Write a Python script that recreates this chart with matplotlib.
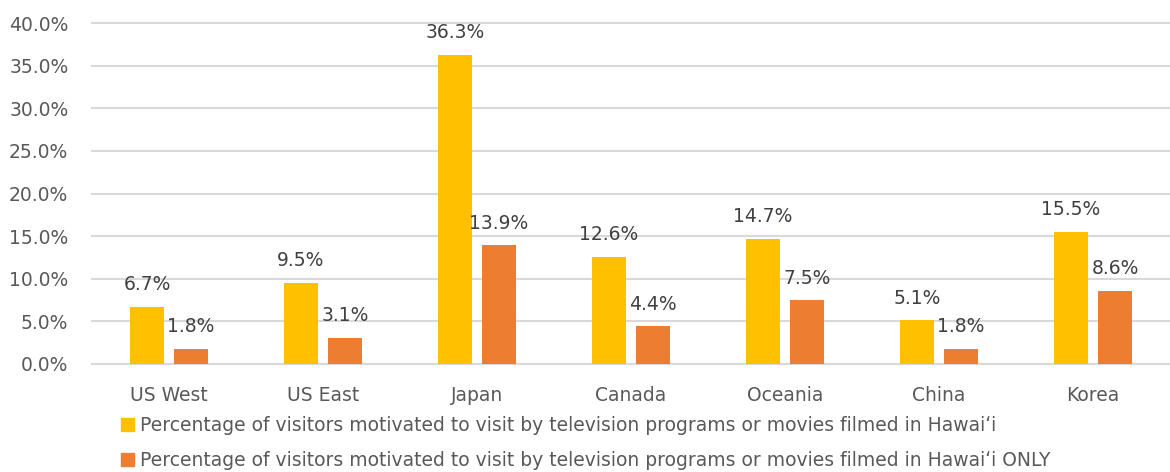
import numpy as np
import matplotlib
matplotlib.use("Agg")
import matplotlib.pyplot as plt
from matplotlib.patches import Patch

plt.rcParams['font.family'] = ['DejaVu Sans']

regions = ["US West", "US East", "Japan", "Canada", "Oceania", "China", "Korea"]
motivated = [6.7, 9.5, 36.3, 12.6, 14.7, 5.1, 15.5]
motivated_only = [1.8, 3.1, 13.9, 4.4, 7.5, 1.8, 8.6]
series_names = [
    "Percentage of visitors motivated to visit by television programs or movies filmed in Hawai\u02bbi",
    "Percentage of visitors motivated to visit by television programs or movies filmed in Hawai\u02bbi ONLY",
]
yticks = [0, 5, 10, 15, 20, 25, 30, 35, 40]

YELLOW = "#ffc000"
ORANGE = "#ed7d31"
TEXT = "#595959"

fig = plt.figure(figsize=(11.7, 4.72), dpi=100)
ax = fig.add_axes([0.0786, 0.229, 0.9214, 0.722])

x = np.arange(len(regions))
w = 0.225
off = 0.143
b1 = ax.bar(x - off, motivated, w, color=YELLOW, zorder=3)
b2 = ax.bar(x + off, motivated_only, w, color=ORANGE, zorder=3)

# value labels on top of each bar
for bars, vals in ((b1, motivated), (b2, motivated_only)):
    for rect, v in zip(bars, vals):
        ax.annotate(f"{v:.1f}%", (rect.get_x() + rect.get_width() / 2, v),
                    xytext=(0, 9), textcoords="offset points",
                    ha="center", va="bottom", fontsize=13.5, color="#404040")

ax.set_xlim(-0.5, len(regions) - 0.5)
ax.set_ylim(0, 40)
ax.set_yticks(yticks)
ax.set_yticklabels([f"{t:.1f}%" for t in yticks])
ax.set_xticks(x)
ax.set_xticklabels(regions)
ax.tick_params(axis="both", length=0, labelsize=13.5, colors=TEXT)
ax.tick_params(axis="y", pad=17)
ax.tick_params(axis="x", pad=16)
ax.grid(axis="y", color="#d9d9d9", linewidth=1.5, zorder=0, clip_on=False)
for s in ax.spines.values():
    s.set_visible(False)

handles = [Patch(color=YELLOW), Patch(color=ORANGE)]
fig.legend(handles, series_names, loc="lower left", bbox_to_anchor=(0.089, -0.032),
           frameon=False, fontsize=13.5, labelcolor=TEXT,
           handlelength=0.7, handleheight=0.7, handletextpad=0.3, labelspacing=0.85)

fig.savefig("out.png", dpi=100)
